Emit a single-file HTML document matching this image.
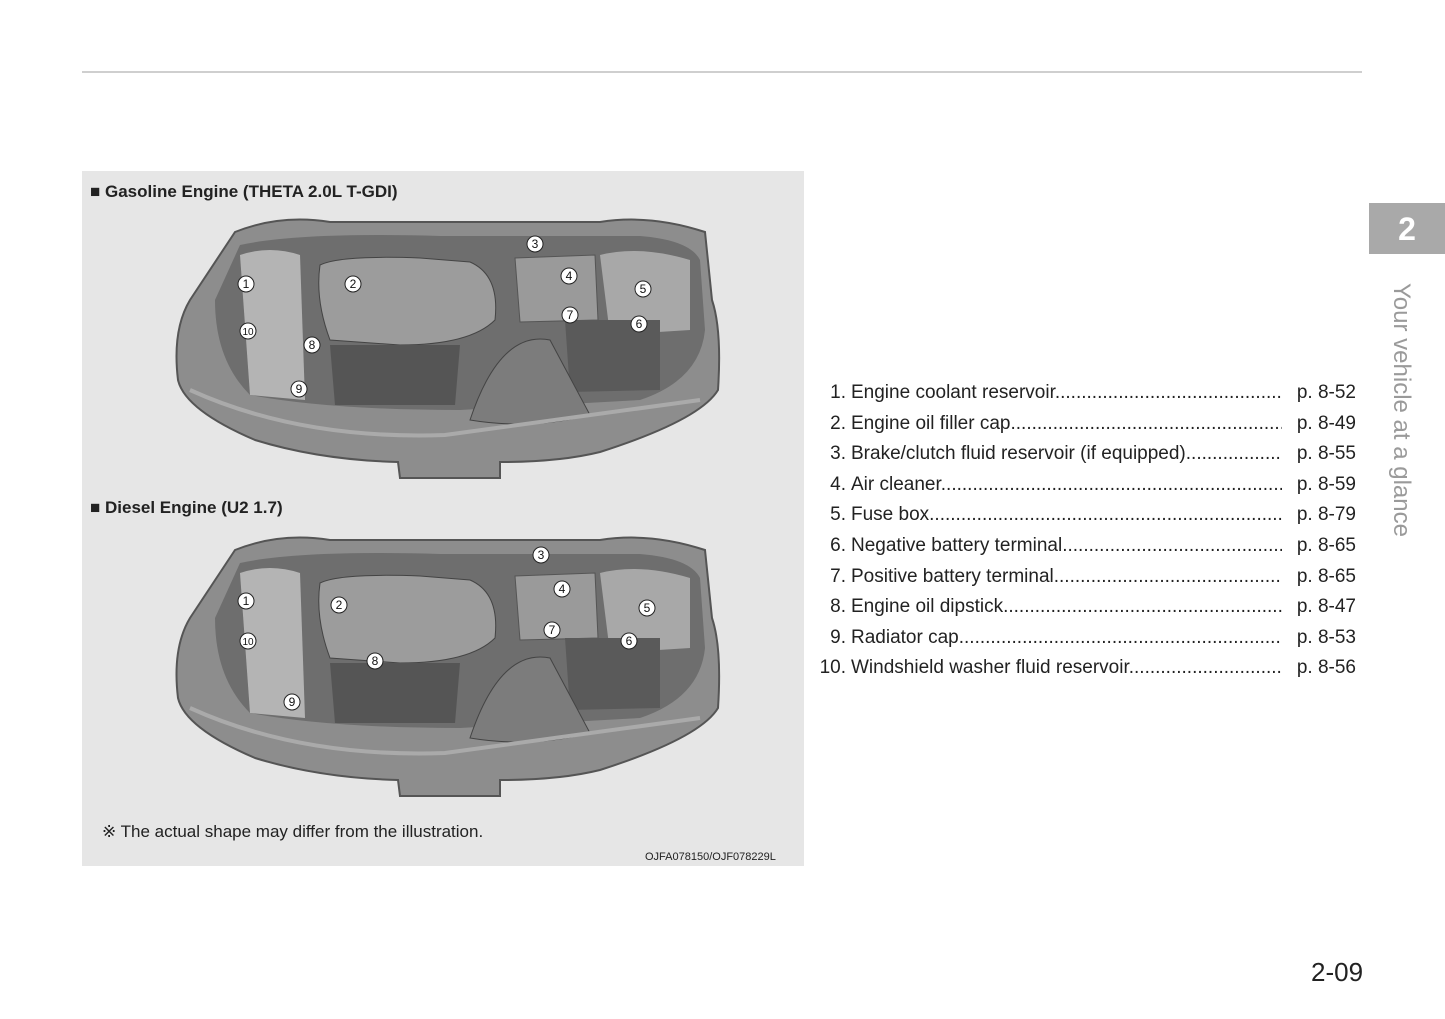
<!DOCTYPE html>
<html><head><meta charset="utf-8"><style>
body{margin:0;width:1445px;height:1019px;background:#fff;position:relative;font-family:"Liberation Sans",sans-serif;overflow:hidden}
.abs{position:absolute}
.rule{left:82px;top:71px;width:1280px;height:2px;background:#cfcfcf}
.panel{left:82px;top:171px;width:722px;height:695px;background:#e6e6e6}
.h{font-weight:bold;font-size:17px;color:#222}
.row{position:absolute;left:810px;width:546px;font-size:19px;color:#222;height:24px;line-height:24px;white-space:nowrap}
.row .n{position:absolute;right:510px;text-align:right}
.row .t{position:absolute;left:41px;width:431px;overflow:hidden}
.row .p{position:absolute;right:0}
.tab{left:1369px;top:203px;width:76px;height:51px;background:#a9a9a9;color:#fff;font-size:32px;font-weight:bold;text-align:center;line-height:52px}
.side{left:1403px;top:283px;transform-origin:0 0;transform:translate(12px,0) rotate(90deg);font-size:24px;color:#9a9a9a;white-space:nowrap}
</style></head><body>
<div class="abs rule"></div>
<div class="abs panel"></div>
<div class="abs h" style="left:90px;top:182px">■ Gasoline Engine (THETA 2.0L T-GDI)</div>
<div class="abs h" style="left:90px;top:498px">■ Diesel Engine (U2 1.7)</div>
<div class="abs" style="left:102px;top:822px;font-size:17px;color:#222">※ The actual shape may differ from the illustration.</div>
<div class="abs" style="left:645px;top:851px;font-size:11px;color:#222">OJFA078150/OJF078229L</div>

<svg class="abs" style="left:0;top:0" width="1445" height="1019">
<defs>
<g id="car">
<path d="M235 232 Q280 214 330 222 L600 222 Q650 214 705 232 L712 300 Q722 330 718 390 Q700 420 600 452 Q560 462 500 462 L500 478 L400 478 L398 462 Q320 460 255 440 Q185 410 178 380 Q172 330 190 300 Z" fill="#8d8d8d" stroke="#555" stroke-width="2"/>
<path d="M240 245 Q300 232 440 236 L640 236 Q690 240 700 260 L705 330 Q700 380 640 400 L460 410 Q330 410 250 395 Q215 360 215 300 Z" fill="#6e6e6e"/>
<path d="M320 265 Q340 255 420 258 L470 262 Q500 275 495 320 Q470 345 400 345 L330 340 Q315 300 320 265Z" fill="#9c9c9c" stroke="#444"/>
<path d="M240 255 Q270 245 300 255 L305 400 L250 395 Z" fill="#b4b4b4"/>
<path d="M600 255 Q640 245 690 260 L690 330 L610 335 Z" fill="#a8a8a8"/>
<path d="M515 258 L595 255 L598 320 L520 322 Z" fill="#9a9a9a" stroke="#555"/>
<path d="M565 320 L660 320 L660 390 L570 392 Z" fill="#5a5a5a"/>
<path d="M470 420 Q500 330 550 340 L590 415 Q530 430 470 420 Z" fill="#7c7c7c" stroke="#444"/>
<path d="M330 345 L460 345 L455 405 L335 405 Z" fill="#555"/>
<path d="M190 390 Q300 440 445 435 L700 400" fill="none" stroke="#aaa" stroke-width="4"/>
</g>
</defs>
<use href="#car"/>
<use href="#car" y="318"/>
<g font-size="12" font-family="Liberation Sans" text-anchor="middle" fill="#111">
<g><circle cx="246" cy="284" r="8" fill="#fff" stroke="#222"/><text x="246" y="288">1</text></g>
<g><circle cx="353" cy="284" r="8" fill="#fff" stroke="#222"/><text x="353" y="288">2</text></g>
<g><circle cx="535" cy="244" r="8" fill="#fff" stroke="#222"/><text x="535" y="248">3</text></g>
<g><circle cx="569" cy="276" r="8" fill="#fff" stroke="#222"/><text x="569" y="280">4</text></g>
<g><circle cx="643" cy="289" r="8" fill="#fff" stroke="#222"/><text x="643" y="293">5</text></g>
<g><circle cx="639" cy="324" r="8" fill="#fff" stroke="#222"/><text x="639" y="328">6</text></g>
<g><circle cx="570" cy="315" r="8" fill="#fff" stroke="#222"/><text x="570" y="319">7</text></g>
<g><circle cx="312" cy="345" r="8" fill="#fff" stroke="#222"/><text x="312" y="349">8</text></g>
<g><circle cx="299" cy="389" r="8" fill="#fff" stroke="#222"/><text x="299" y="393">9</text></g>
<g><circle cx="248" cy="331" r="8" fill="#fff" stroke="#222"/><text x="248" y="335" font-size="10">10</text></g>
<g><circle cx="246" cy="601" r="8" fill="#fff" stroke="#222"/><text x="246" y="605">1</text></g>
<g><circle cx="339" cy="605" r="8" fill="#fff" stroke="#222"/><text x="339" y="609">2</text></g>
<g><circle cx="541" cy="555" r="8" fill="#fff" stroke="#222"/><text x="541" y="559">3</text></g>
<g><circle cx="562" cy="589" r="8" fill="#fff" stroke="#222"/><text x="562" y="593">4</text></g>
<g><circle cx="647" cy="608" r="8" fill="#fff" stroke="#222"/><text x="647" y="612">5</text></g>
<g><circle cx="629" cy="641" r="8" fill="#fff" stroke="#222"/><text x="629" y="645">6</text></g>
<g><circle cx="552" cy="630" r="8" fill="#fff" stroke="#222"/><text x="552" y="634">7</text></g>
<g><circle cx="375" cy="661" r="8" fill="#fff" stroke="#222"/><text x="375" y="665">8</text></g>
<g><circle cx="292" cy="702" r="8" fill="#fff" stroke="#222"/><text x="292" y="706">9</text></g>
<g><circle cx="248" cy="641" r="8" fill="#fff" stroke="#222"/><text x="248" y="645" font-size="10">10</text></g>
</g>
</svg>

<div class="row" style="top:381px"><span class="n">1.</span><span class="t">Engine coolant reservoir.............................................................</span><span class="p">p. 8-52</span></div>
<div class="row" style="top:412px"><span class="n">2.</span><span class="t">Engine oil filler cap.................................................................</span><span class="p">p. 8-49</span></div>
<div class="row" style="top:442px"><span class="n">3.</span><span class="t">Brake/clutch fluid reservoir (if equipped)...............................</span><span class="p">p. 8-55</span></div>
<div class="row" style="top:473px"><span class="n">4.</span><span class="t">Air cleaner.......................................................................................</span><span class="p">p. 8-59</span></div>
<div class="row" style="top:503px"><span class="n">5.</span><span class="t">Fuse box..........................................................................................</span><span class="p">p. 8-79</span></div>
<div class="row" style="top:534px"><span class="n">6.</span><span class="t">Negative battery terminal..........................................................</span><span class="p">p. 8-65</span></div>
<div class="row" style="top:565px"><span class="n">7.</span><span class="t">Positive battery terminal............................................................</span><span class="p">p. 8-65</span></div>
<div class="row" style="top:595px"><span class="n">8.</span><span class="t">Engine oil dipstick........................................................................</span><span class="p">p. 8-47</span></div>
<div class="row" style="top:626px"><span class="n">9.</span><span class="t">Radiator cap..................................................................................</span><span class="p">p. 8-53</span></div>
<div class="row" style="top:656px"><span class="n">10.</span><span class="t">Windshield washer fluid reservoir..........................................</span><span class="p">p. 8-56</span></div>

<div class="abs tab">2</div>
<div class="abs side">Your vehicle at a glance</div>
<div class="abs" style="left:1311px;top:957px;font-size:26px;color:#222">2-09</div>
</body></html>
